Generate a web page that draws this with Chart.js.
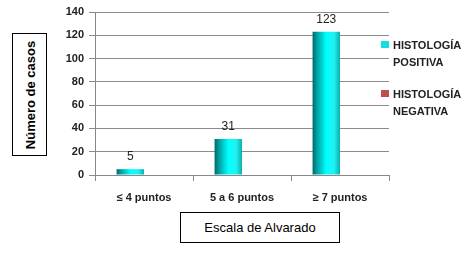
<!DOCTYPE html>
<html>
<head>
<meta charset="utf-8">
<script src="https://cdn.jsdelivr.net/npm/chart.js@4/dist/chart.umd.min.js"></script>
<style>
  body { margin: 0; background: #fff; }
  #wrap { position: relative; width: 466px; height: 256px; font-family: "Liberation Sans", Arial, sans-serif; }
  #grafico { position: absolute; left: 0; top: 0; }
  .caja { position: absolute; border: 1px solid #000; box-sizing: border-box; background: #fff; color: #000; }
  #tituloY { left: 12px; top: 33px; width: 35px; height: 123px; }
  #tituloY span { position: absolute; left: 50%; top: 50%; transform: translate(-50%, -50%) rotate(-90deg);
    white-space: nowrap; font-weight: bold; font-size: 13px; }
  #tituloX { left: 180px; top: 212px; width: 160px; height: 31px; font-size: 13px;
    display: flex; align-items: center; justify-content: center; }
  .leyenda { position: absolute; left: 381px; font-size: 11px; font-weight: bold; color: #222; line-height: 17px; }
  .leyenda i { position: absolute; left: 0; top: 4px; width: 8px; height: 7px; }
  .leyenda div { margin-left: 12px; }
</style>
</head>
<body>
<div id="wrap">
  <canvas id="grafico" width="466" height="256"></canvas>
  <div id="tituloY" class="caja"><span>Número de casos</span></div>
  <div id="tituloX" class="caja">Escala de Alvarado</div>
  <div id="leyenda"></div>
</div>
<script>
// categorías y valores
const categorias = ['≤ 4 puntos', '5 a 6 puntos', '≥ 7 puntos'];
const positiva = [5, 31, 123];
const negativa = [0, 0, 0];
const series = [['HISTOLOGÍA', 'POSITIVA'], ['HISTOLOGÍA', 'NEGATIVA']];
const colores = ['#12E0E0', '#C0504D'];
const ticksY = [0, 20, 40, 60, 80, 100, 120, 140];

const catPct = 0.56;

// leyenda en HTML
const leyendaTop = [37, 86];
series.forEach((nombre, i) => {
  const d = document.createElement('div');
  d.className = 'leyenda';
  d.style.top = leyendaTop[i] + 'px';
  d.innerHTML = '<i style="background:' + colores[i] + '"></i><div>' + nombre.join('<br>') + '</div>';
  document.getElementById('wrap').appendChild(d);
});

// degradado tipo cilindro para las barras
function degradado(context) {
  const chart = context.chart;
  const x = chart.scales.x;
  if (!chart.chartArea || !x) return colores[0];
  const centro = x.getPixelForValue(context.dataIndex);
  const ancho = (x.width / categorias.length) * catPct / 2;
  const g = chart.ctx.createLinearGradient(centro - ancho, 0, centro, 0);
  g.addColorStop(0, '#006A6A');
  g.addColorStop(0.18, '#00A5A5');
  g.addColorStop(0.5, '#00FFFF');
  g.addColorStop(0.78, '#22F2F2');
  g.addColorStop(1, '#0AB0B0');
  return g;
}

// etiquetas de valores encima de las barras
const etiquetas = {
  id: 'etiquetas',
  afterDatasetsDraw(chart) {
    const ctx = chart.ctx;
    const meta = chart.getDatasetMeta(0);
    ctx.save();
    ctx.font = '12px "Liberation Sans", Arial, sans-serif';
    ctx.fillStyle = '#222';
    ctx.textAlign = 'center';
    ctx.textBaseline = 'bottom';
    meta.data.forEach((bar, i) => {
      ctx.fillText(positiva[i], bar.x, bar.y - 6);
    });
    ctx.restore();
  }
};

const ctx = document.getElementById('grafico').getContext('2d');
new Chart(ctx, {
  type: 'bar',
  data: {
    labels: categorias,
    datasets: [
      { label: series[0].join(' '), data: positiva, backgroundColor: degradado, borderWidth: 0 },
      { label: series[1].join(' '), data: negativa, backgroundColor: colores[1], borderWidth: 0 }
    ]
  },
  options: {
    responsive: false,
    animation: false,
    layout: { padding: { left: 50, right: 77, top: 12, bottom: 41 } },
    datasets: { bar: { categoryPercentage: catPct, barPercentage: 1 } },
    plugins: { legend: { display: false }, tooltip: { enabled: false } },
    scales: {
      x: {
        afterFit: s => { s.height = 40; },
        grid: { drawOnChartArea: false, drawTicks: true, tickLength: 6, color: '#888', offset: true },
        border: { color: '#888', width: 1 },
        ticks: { color: '#222', padding: 10, font: { family: '"Liberation Sans", Arial, sans-serif', size: 11, weight: 'bold' } }
      },
      y: {
        min: 0,
        max: ticksY[ticksY.length - 1],
        afterFit: s => { s.width = 45; },
        afterBuildTicks: s => { s.ticks = ticksY.map(v => ({ value: v })); },
        grid: { color: '#8c8c8c', lineWidth: 1, tickLength: 6 },
        border: { color: '#888', width: 1 },
        ticks: { color: '#222', padding: 5, font: { family: '"Liberation Sans", Arial, sans-serif', size: 11, weight: 'bold' } }
      }
    }
  },
  plugins: [etiquetas]
});
</script>
</body>
</html>
